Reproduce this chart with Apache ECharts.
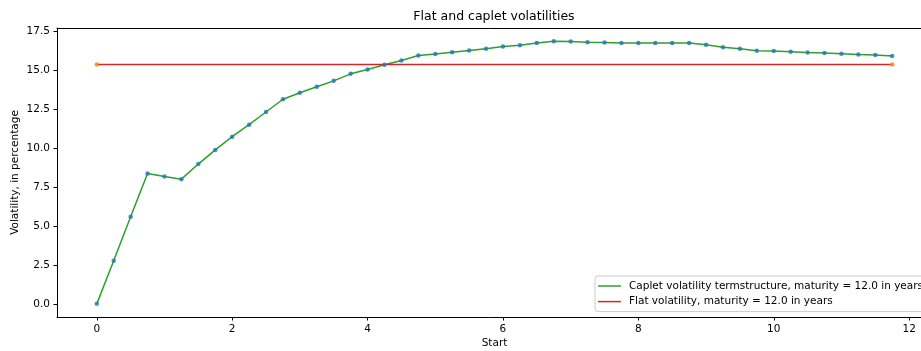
<!DOCTYPE html>
<html>
<head>
<meta charset="utf-8">
<script src="https://cdn.jsdelivr.net/npm/echarts@6/dist/echarts.min.js"></script>
<style>
html,body{margin:0;padding:0;background:#fff;}
#chart{width:921px;height:351px;}
</style>
</head>
<body>
<div id="chart"></div>
<script>
var startTimes = [0, 0.25, 0.5, 0.75, 1, 1.25, 1.5, 1.75, 2, 2.25, 2.5, 2.75,
  3, 3.25, 3.5, 3.75, 4, 4.25, 4.5, 4.75, 5, 5.25, 5.5, 5.75,
  6, 6.25, 6.5, 6.75, 7, 7.25, 7.5, 7.75, 8, 8.25, 8.5, 8.75,
  9, 9.25, 9.5, 9.75, 10, 10.25, 10.5, 10.75, 11, 11.25, 11.5, 11.75];
var capletVols = [0.0, 2.77, 5.59, 8.37, 8.17, 8.0, 8.97, 9.88, 10.73, 11.5, 12.31, 13.13,
  13.55, 13.93, 14.31, 14.76, 15.04, 15.34, 15.62, 15.94, 16.03, 16.15, 16.26, 16.37,
  16.51, 16.6, 16.73, 16.85, 16.84, 16.79, 16.77, 16.74, 16.73, 16.73, 16.73, 16.73,
  16.63, 16.47, 16.37, 16.24, 16.22, 16.18, 16.13, 16.09, 16.05, 16.0, 15.96, 15.9];
var flatStarts = [0, 11.75];
var flatVols = [15.36, 15.36];
var xTicks = [0, 2, 4, 6, 8, 10, 12];
var yTicks = [0, 2.5, 5, 7.5, 10, 12.5, 15, 17.5];
var capletName = 'Caplet volatility termstructure, maturity = 12.0 in years';
var flatName = 'Flat volatility, maturity = 12.0 in years';

var capletData = startTimes.map(function (t, i) { return [t, capletVols[i]]; });
var flatData = flatStarts.map(function (t, i) { return [t, flatVols[i]]; });

var FONT = 'DejaVu Sans';
var FS = 10.5;
var X_MIN = -0.5875, X_MAX = 12.3375;
var chart = echarts.init(document.getElementById('chart'), null, {renderer: 'canvas'});
chart.setOption({
  animation: false,
  backgroundColor: '#fff',
  textStyle: {fontFamily: FONT, color: '#000'},
  graphic: [{
    type: 'text', x: 494, y: 17,
    style: {text: 'Flat and caplet volatilities', fontFamily: FONT, fontSize: 12.5,
      fill: '#000', align: 'center', verticalAlign: 'middle'}
  }],
  grid: {left: 57, top: 28, width: 875, height: 289, show: false, containLabel: false, outerBoundsMode: 'none'},
  legend: {
    orient: 'vertical', left: 595, top: 276,
    padding: [4, 12, 4, 3],
    itemWidth: 23, itemHeight: 1.5, itemGap: 3.6,
    backgroundColor: 'rgba(255,255,255,0.85)', borderColor: '#cccccc', borderWidth: 1, borderRadius: 3,
    textStyle: {fontFamily: FONT, fontSize: FS, color: '#000', lineHeight: 12, padding: [0, 0, 0, 3]},
    data: [{name: capletName, icon: 'rect'}, {name: flatName, icon: 'rect'}]
  },
  xAxis: [{
    type: 'value', min: X_MIN, max: X_MAX,
    name: 'Start', nameLocation: 'middle', nameGap: 21, nameMoveOverlap: false,
    nameTextStyle: {fontFamily: FONT, fontSize: FS, color: '#000'},
    splitLine: {show: false},
    axisLine: {show: true, onZero: false, lineStyle: {color: '#000', width: 1}},
    axisTick: {show: true, customValues: xTicks, length: 3.5, lineStyle: {color: '#000'}},
    axisLabel: {customValues: xTicks, margin: 7, fontFamily: FONT, fontSize: FS, color: '#000',
      formatter: function (v) { return String(v); }}
  }, {
    type: 'value', position: 'top', min: X_MIN, max: X_MAX,
    splitLine: {show: false},
    axisLine: {show: true, onZero: false, lineStyle: {color: '#000', width: 1}},
    axisTick: {show: false}, axisLabel: {show: false}
  }],
  yAxis: {
    type: 'value', min: -0.843, max: 17.70,
    name: 'Volatility, in percentage', nameLocation: 'middle', nameGap: 36, nameMoveOverlap: false,
    nameTextStyle: {fontFamily: FONT, fontSize: FS, color: '#000'},
    splitLine: {show: false},
    axisLine: {show: true, onZero: false, lineStyle: {color: '#000', width: 1}},
    axisTick: {show: true, customValues: yTicks, length: 3.5, lineStyle: {color: '#000'}},
    axisLabel: {customValues: yTicks, margin: 7, fontFamily: FONT, fontSize: FS, color: '#000',
      formatter: function (v) { return v.toFixed(1); }}
  },
  series: [
    {type: 'line', name: capletName, data: capletData, showSymbol: false, color: '#2ca02c',
      lineStyle: {color: '#2ca02c', width: 1.5}, itemStyle: {color: '#2ca02c'}, z: 2},
    {type: 'line', name: flatName, data: flatData, showSymbol: false, color: '#d62728',
      lineStyle: {color: '#d62728', width: 1.5}, itemStyle: {color: '#d62728'}, z: 2},
    {type: 'scatter', name: 'caplet points', data: capletData, symbol: 'circle', symbolSize: 4.5,
      itemStyle: {color: '#1f77b4'}, z: 3, silent: true},
    {type: 'scatter', name: 'flat points', data: flatData, symbol: 'circle', symbolSize: 4.5,
      itemStyle: {color: '#ff7f0e'}, z: 3, silent: true}
  ]
});
</script>
</body>
</html>
